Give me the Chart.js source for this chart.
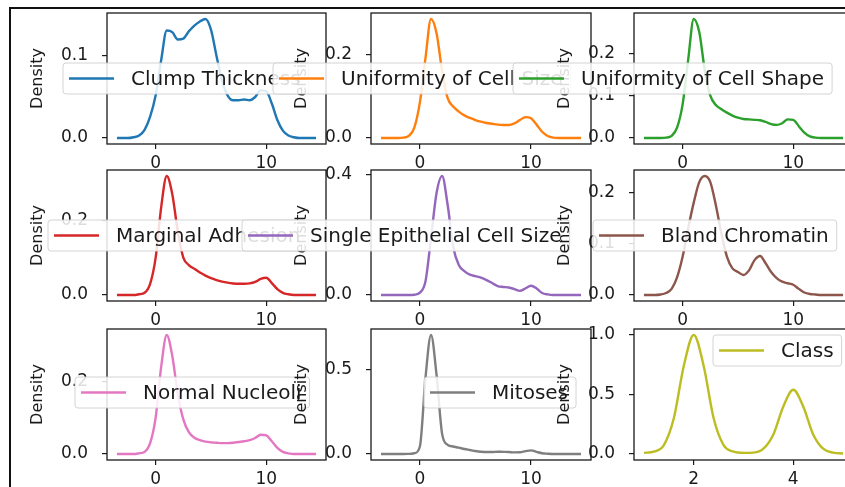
<!DOCTYPE html>
<html lang="en">
<head>
<meta charset="UTF-8">
<title>Density plots</title>
<style>
  html, body { margin: 0; padding: 0; background: #fff; }
  body { width: 845px; height: 487px; overflow: hidden; position: relative; }
  .frame { position: absolute; left: 9px; top: 7px; width: 900px; height: 520px; border-left: 2px solid #111; border-top: 2px solid #111; }
  canvas { position: absolute; left: 0; top: 0; }
</style>
</head>
<body>
<div class="frame"></div>
<div id="wrap"></div>
<script src="https://cdn.jsdelivr.net/npm/chart.js"></script>
<script>
// kde evaluation grid shared by the first eight columns
const kdeX = [-3.5, -3, -2.5, -2, -1.5, -1, -0.5, 0, 0.5, 1, 1.5, 2, 2.5, 3, 3.5, 4, 4.5, 5, 5.5, 6,
              6.5, 7, 7.5, 8, 8.5, 9, 9.5, 10, 10.5, 11, 11.5, 12, 12.5, 13, 13.5, 14, 14.5];

const clumpThickness = [0, 0, 0, 0.001, 0.003, 0.01, 0.026, 0.052, 0.095, 0.131, 0.129, 0.12, 0.121, 0.13, 0.137, 0.142, 0.145, 0.132, 0.1, 0.07,
                        0.052, 0.046, 0.046, 0.047, 0.046, 0.05, 0.058, 0.057, 0.042, 0.022, 0.009, 0.003, 0.001, 0, 0, 0, 0];
const cellSize = [0, 0, 0, 0, 0.001, 0.005, 0.025, 0.085, 0.19, 0.284, 0.25, 0.16, 0.095, 0.075, 0.063, 0.054, 0.048, 0.043, 0.039, 0.036,
                  0.034, 0.032, 0.031, 0.031, 0.035, 0.043, 0.05, 0.047, 0.032, 0.015, 0.005, 0.001, 0, 0, 0, 0, 0];
const cellShape = [0, 0, 0, 0, 0.001, 0.005, 0.025, 0.08, 0.185, 0.281, 0.25, 0.16, 0.1, 0.078, 0.068, 0.06, 0.053, 0.048, 0.045, 0.044,
                   0.043, 0.042, 0.038, 0.033, 0.031, 0.035, 0.044, 0.043, 0.028, 0.013, 0.004, 0.001, 0, 0, 0, 0, 0];
const marginalAdhesion = [0, 0, 0, 0, 0.002, 0.006, 0.03, 0.1, 0.235, 0.318, 0.27, 0.17, 0.1, 0.08, 0.07, 0.06, 0.052, 0.045, 0.04, 0.036,
                          0.033, 0.031, 0.03, 0.03, 0.031, 0.035, 0.043, 0.046, 0.032, 0.016, 0.006, 0.002, 0, 0, 0, 0, 0];
const singleEpithelial = [0, 0, 0, 0, 0, 0, 0.001, 0.008, 0.045, 0.19, 0.34, 0.397, 0.3, 0.16, 0.1, 0.08, 0.068, 0.063, 0.058, 0.05,
                          0.04, 0.03, 0.027, 0.025, 0.02, 0.014, 0.022, 0.031, 0.022, 0.007, 0.002, 0, 0, 0, 0, 0, 0];
const blandChromatin = [0, 0, 0, 0.001, 0.004, 0.012, 0.035, 0.075, 0.13, 0.18, 0.22, 0.232, 0.22, 0.175, 0.12, 0.075, 0.052, 0.045, 0.039, 0.048,
                        0.068, 0.076, 0.062, 0.045, 0.033, 0.026, 0.023, 0.02, 0.012, 0.005, 0.002, 0.001, 0, 0, 0, 0, 0];
const normalNucleoli = [0, 0, 0, 0, 0.002, 0.006, 0.03, 0.1, 0.24, 0.327, 0.27, 0.165, 0.095, 0.06, 0.045, 0.038, 0.034, 0.032, 0.031, 0.03,
                        0.03, 0.031, 0.033, 0.035, 0.038, 0.044, 0.053, 0.051, 0.035, 0.017, 0.006, 0.002, 0, 0, 0, 0, 0];
const mitoses = [0, 0, 0, 0, 0, 0.001, 0.005, 0.045, 0.45, 0.708, 0.47, 0.12, 0.055, 0.045, 0.038, 0.03, 0.024, 0.018, 0.014, 0.012,
                 0.012, 0.014, 0.013, 0.012, 0.01, 0.011, 0.017, 0.022, 0.013, 0.005, 0.002, 0, 0, 0, 0, 0, 0];

const classX = [1, 1.2, 1.4, 1.6, 1.8, 2, 2.2, 2.4, 2.6, 2.8, 3, 3.2, 3.4, 3.6, 3.8, 4, 4.2, 4.4, 4.6, 4.8, 5];
const classDensity = [0.01, 0.02, 0.075, 0.3, 0.74, 1.0, 0.74, 0.3, 0.075, 0.02, 0.01, 0.012, 0.045, 0.165, 0.4, 0.54, 0.4, 0.165, 0.045, 0.012, 0.005];

const names = ['Clump Thickness', 'Uniformity of Cell Size', 'Uniformity of Cell Shape', 'Marginal Adhesion',
               'Single Epithelial Cell Size', 'Bland Chromatin', 'Normal Nucleoli', 'Mitoses', 'Class'];
const colors = ['#1f77b4', '#ff7f0e', '#2ca02c', '#d62728', '#9467bd', '#8c564b', '#e377c2', '#7f7f7f', '#bcbd22'];
const seriesX = [kdeX, kdeX, kdeX, kdeX, kdeX, kdeX, kdeX, kdeX, classX];
const seriesY = [clumpThickness, cellSize, cellShape, marginalAdhesion, singleEpithelial, blandChromatin, normalNucleoli, mitoses, classDensity];
const yTickVals = [[0, 0.1], [0, 0.2], [0, 0.1, 0.2], [0, 0.2], [0, 0.4], [0, 0.1, 0.2], [0, 0.2], [0, 0.5], [0, 0.5, 1.0]];
const xTickVals = [[0, 10], [0, 10], [0, 10], [0, 10], [0, 10], [0, 10], [0, 10], [0, 10], [2, 4]];

// layout (pixels)
const CW = 870, CH = 510;
const cols = [[107, 326], [371, 591], [634, 853]];
const rows = [[13, 144], [170, 301], [329, 460]];
const legendAt = [[63, 63], [273, 63], [513, 63], [48, 220], [242, 220], [593, 220], [75, 377], [424, 377], [713, 335]];
const Y_W = 79, X_H = 40;
const INK = '#1a1a1a';
const FONT = 'DejaVu Sans';

function roundBox(ctx, x, y, w, h, r) {
    ctx.beginPath();
    ctx.moveTo(x + r, y);
    ctx.arcTo(x + w, y, x + w, y + h, r);
    ctx.arcTo(x + w, y + h, x, y + h, r);
    ctx.arcTo(x, y + h, x, y, r);
    ctx.arcTo(x, y, x + w, y, r);
    ctx.closePath();
}

function axesPlugin(i) {
    return {
        id: 'axesFrame' + i,
        beforeDraw(chart) {
            const a = chart.chartArea, ctx = chart.ctx;
            ctx.save();
            ctx.fillStyle = '#fff';
            ctx.fillRect(a.left, a.top, a.right - a.left, a.bottom - a.top);
            ctx.restore();
        },
        afterDraw(chart) {
            const a = chart.chartArea, ctx = chart.ctx;
            ctx.save();
            // spines
            ctx.strokeStyle = INK;
            ctx.lineWidth = 1.3;
            ctx.strokeRect(a.left, a.top, a.right - a.left, a.bottom - a.top);
            // matplotlib style legend
            ctx.font = '20px "' + FONT + '"';
            const tw = ctx.measureText(names[i]).width;
            const bx = legendAt[i][0], by = legendAt[i][1], bw = 68 + tw + 8, bh = 31;
            roundBox(ctx, bx, by, bw, bh, 3);
            ctx.globalAlpha = 0.85;
            ctx.fillStyle = '#fff';
            ctx.fill();
            ctx.strokeStyle = '#cccccc';
            ctx.lineWidth = 1;
            ctx.stroke();
            ctx.globalAlpha = 1;
            const cy = by + bh / 2;
            ctx.strokeStyle = colors[i];
            ctx.lineWidth = 2.4;
            ctx.beginPath();
            ctx.moveTo(bx + 6, cy);
            ctx.lineTo(bx + 51, cy);
            ctx.stroke();
            ctx.fillStyle = INK;
            ctx.textBaseline = 'middle';
            ctx.textAlign = 'left';
            ctx.fillText(names[i], bx + 68, cy + 1);
            ctx.restore();
        }
    };
}

const wrap = document.getElementById('wrap');

for (let i = 0; i < 9; i++) {
    const col = cols[i % 3], row = rows[Math.floor(i / 3)];
    const xs = seriesX[i], ys = seriesY[i];
    const xSpan = xs[xs.length - 1] - xs[0];
    const peak = Math.max(...ys);

    const canvas = document.createElement('canvas');
    canvas.width = CW;
    canvas.height = CH;
    canvas.style.zIndex = String(i + 1);
    wrap.appendChild(canvas);

    new Chart(canvas.getContext('2d'), {
        type: 'line',
        data: {
            datasets: [{
                label: names[i],
                data: xs.map((x, k) => ({ x: x, y: ys[k] })),
                borderColor: colors[i],
                borderWidth: 2.4,
                pointRadius: 0,
                fill: false,
                cubicInterpolationMode: 'monotone'
            }]
        },
        options: {
            responsive: false,
            animation: false,
            layout: {
                padding: { left: col[0] - Y_W, top: row[0], right: CW - col[1], bottom: CH - row[1] - X_H }
            },
            plugins: { legend: { display: false }, tooltip: { enabled: false } },
            scales: {
                x: {
                    type: 'linear',
                    min: xs[0] - 0.05 * xSpan,
                    max: xs[xs.length - 1] + 0.05 * xSpan,
                    afterBuildTicks: s => { s.ticks = xTickVals[i].map(v => ({ value: v })); },
                    afterFit: s => { s.height = X_H; s.paddingLeft = 0; s.paddingRight = 0; },
                    ticks: { font: { family: FONT, size: 17 }, color: INK, padding: 4, maxRotation: 0, callback: v => String(v) },
                    grid: { display: true, drawOnChartArea: false, drawTicks: true, tickLength: 5, color: INK, lineWidth: 1.2 },
                    border: { display: false }
                },
                y: {
                    type: 'linear',
                    min: -0.05 * peak,
                    max: 1.05 * peak,
                    afterBuildTicks: s => { s.ticks = yTickVals[i].map(v => ({ value: v })); },
                    afterFit: s => { s.width = Y_W; s.paddingTop = 0; s.paddingBottom = 0; },
                    ticks: { font: { family: FONT, size: 17 }, color: INK, padding: 14, callback: v => v.toFixed(1) },
                    grid: { display: true, drawOnChartArea: false, drawTicks: true, tickLength: 5, color: INK, lineWidth: 1.2 },
                    border: { display: false },
                    title: { display: true, text: 'Density', color: INK, font: { family: FONT, size: 16 }, padding: 0 }
                }
            }
        },
        plugins: [axesPlugin(i)]
    });
}
</script>
</body>
</html>
